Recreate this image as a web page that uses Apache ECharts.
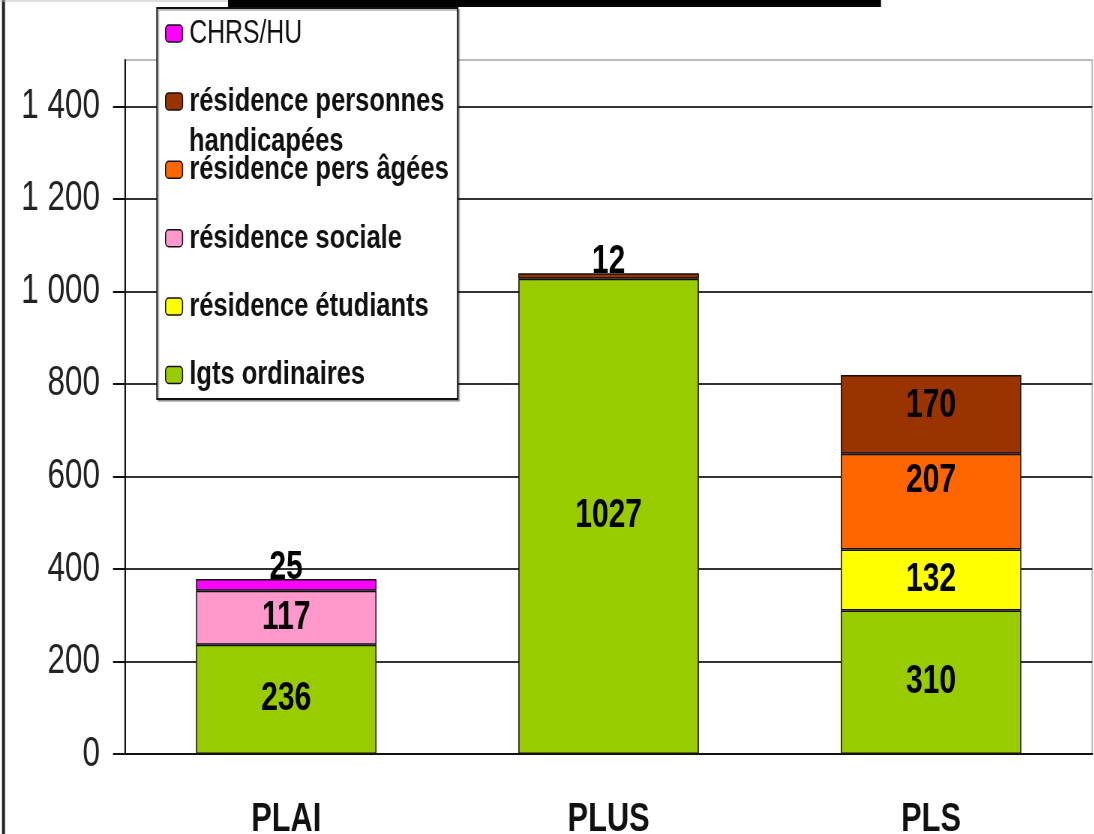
<!DOCTYPE html>
<html>
<head>
<meta charset="utf-8">
<script src="https://cdn.jsdelivr.net/npm/echarts@6/dist/echarts.min.js"></script>
<style>
  html, body { margin: 0; padding: 0; background: #fff; overflow: hidden; }
  /* le graphique d'origine est une image étirée : on compresse en largeur */
  #chart { width: 1459px; height: 834px; transform: scaleX(0.75); transform-origin: 0 0; }
</style>
</head>
<body>
<div id="chart"></div>
<script>
// données
const categories = ['PLAI', 'PLUS', 'PLS']
const lgtsOrdinaires = [236, 1027, 310]
const residenceEtudiants = [0, 0, 132]
const residenceSociale = [117, 0, 0]
const residencePersAgees = [0, 0, 207]
const residenceHandicapees = [0, 12, 170]
const chrsHu = [25, 0, 0]
const yTicks = [0, 200, 400, 600, 800, 1000, 1200, 1400]

const SX = 0.75 // compression horizontale
const FONT = '"Liberation Sans", Arial, sans-serif'

const chart = echarts.init(document.getElementById('chart'))

// une série empilée ; zéros non dessinés, petites valeurs étiquetées au-dessus
// nudge : décalage vertical de l'étiquette par catégorie (comme dans l'original)
function stackSeries(name, values, color, nudge) {
  return {
    name,
    type: 'bar',
    stack: 'total',
    barWidth: '56%',
    data: values.map((v, i) => {
      if (v === 0) return null
      if (v < 40) return { value: v, label: { position: 'top', distance: -9 } }
      if (nudge && nudge[i]) return { value: v, label: { offset: [0, nudge[i]] } }
      return v
    }),
    itemStyle: { color, borderColor: '#111', borderWidth: 1.5 },
    label: {
      show: true,
      position: 'inside',
      color: '#000',
      fontFamily: FONT,
      fontWeight: 'bold',
      fontSize: 40,
    },
  }
}

chart.setOption({
  animation: false,
  backgroundColor: '#fff',
  grid: {
    left: 125 / SX, right: 2 / SX, top: 60, bottom: 80,
    outerBoundsMode: 'none', containLabel: false,
    show: true, borderColor: '#bbb', borderWidth: 2,
  },
  legend: {
    orient: 'vertical',
    left: 157 / SX,
    top: 8,
    padding: [9, 12, 7, 8 / SX],
    backgroundColor: '#fff',
    borderColor: '#111',
    borderWidth: 2,
    shadowColor: 'rgba(0,0,0,0.25)',
    shadowOffsetX: 2,
    shadowOffsetY: 2,
    itemWidth: 17 / SX,
    itemHeight: 17,
    itemGap: 34.4,
    itemStyle: { borderColor: '#111', borderWidth: 1.5 },
    textStyle: { fontFamily: FONT, fontSize: 34, fontWeight: 'bold', color: '#111', padding: [0, 0, 0, 4] },
    formatter: n => (n === 'résidence personnes handicapées' ? 'résidence personnes' : n),
    data: [
      { name: 'CHRS/HU', textStyle: { fontWeight: 'normal', fontSize: 33 } },
      'résidence personnes handicapées',
      'résidence pers âgées',
      'résidence sociale',
      'résidence étudiants',
      'lgts ordinaires',
    ],
  },
  xAxis: {
    type: 'category',
    data: categories,
    axisLine: { lineStyle: { color: '#111', width: 2 } },
    axisTick: { length: 14, lineStyle: { color: '#111', width: 2 } },
    axisLabel: { color: '#111', fontFamily: FONT, fontWeight: 'bold', fontSize: 41, margin: 45 },
  },
  yAxis: {
    type: 'value',
    min: 0,
    max: 1500,
    interval: 200,
    axisLine: { show: true, lineStyle: { color: '#111', width: 2 } },
    axisTick: { show: true, length: 12 / SX, lineStyle: { color: '#111', width: 2 } },
    axisLabel: {
      showMaxLabel: false,
      color: '#222',
      fontFamily: FONT,
      fontSize: 42,
      margin: 25 / SX,
      formatter: v => (yTicks.includes(v) ? String(v).replace(/\B(?=(\d{3})+(?!\d))/g, ' ') : ''),
    },
    splitLine: {
      lineStyle: { color: ['#333', '#333', '#333', '#333', '#333', '#333', '#333', '#333', '#bbb'], width: 2 },
    },
  },
  graphic: [
    // bandeau noir du titre coupé et cadre gauche
    { type: 'rect', left: 228 / SX, top: 0, shape: { width: 653 / SX, height: 7 }, style: { fill: '#000' } },
    { type: 'rect', left: 2 / SX, top: 0, shape: { width: 3 / SX, height: 834 }, style: { fill: '#222' } },
    { type: 'line', shape: { x1: 0, y1: 1, x2: 228 / SX, y2: 1 }, style: { stroke: '#bbb', lineWidth: 1 } },
    // seconde ligne de la légende
    {
      type: 'text', left: 189 / SX, top: 125, z: 100,
      style: { text: 'handicapées', font: 'bold 34px ' + FONT, fill: '#111' },
    },
  ],
  series: [
    stackSeries('lgts ordinaires', lgtsOrdinaires, '#99CC00'),
    stackSeries('résidence étudiants', residenceEtudiants, '#FFFF00'),
    stackSeries('résidence sociale', residenceSociale, '#FF99CC'),
    stackSeries('résidence pers âgées', residencePersAgees, '#FF6600', [0, 0, -21]),
    stackSeries('résidence personnes handicapées', residenceHandicapees, '#993300', [0, 0, -8]),
    stackSeries('CHRS/HU', chrsHu, '#FF00FF'),
  ],
})
</script>
</body>
</html>
